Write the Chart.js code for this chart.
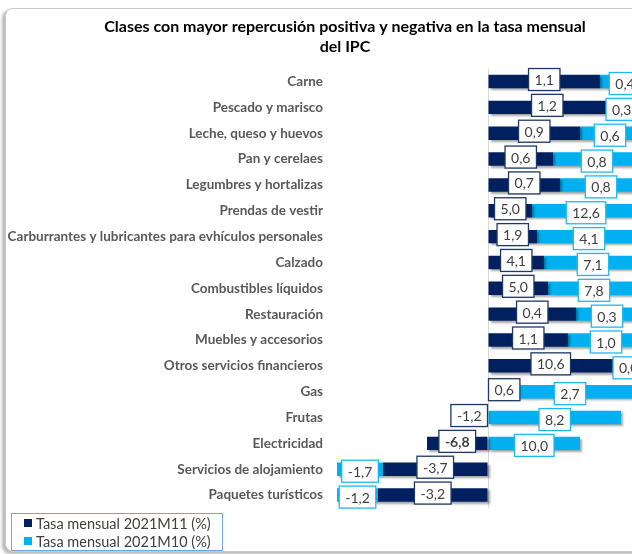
<!DOCTYPE html>
<html>
<head>
<meta charset="utf-8">
<script src="https://cdn.jsdelivr.net/npm/chart.js@4/dist/chart.umd.min.js"></script>
<style>
  html, body { margin: 0; padding: 0; background: #fff; overflow: hidden; }
  #vista { position: relative; width: 632px; height: 554px; overflow: hidden; }
  #marco { position: absolute; left: 5px; top: 8px; width: 720px; height: 542px;
           border: 1px solid #c9c9c9; border-radius: 8px; box-shadow: -3px 2px 3px rgba(0,0,0,0.28); background: #fff; }
  #lienzo { position: absolute; left: 0; top: 0; width: 692px; height: 554px; }
</style>
</head>
<body>
<div id="vista">
  <div id="marco"></div>
  <div id="lienzo"><canvas id="chartIPC"></canvas></div>
</div>
<script>
const clases = [
    'Carne', 'Pescado y marisco', 'Leche, queso y huevos', 'Pan y cerelaes',
    'Legumbres y hortalizas', 'Prendas de vestir',
    'Carburrantes y lubricantes para evhículos personales', 'Calzado',
    'Combustibles líquidos', 'Restauración', 'Muebles y accesorios',
    'Otros servicios financieros', 'Gas', 'Frutas', 'Electricidad',
    'Servicios de alojamiento', 'Paquetes turísticos'
];

// longitud de cada barra (repercusión)
const repM11 = [1.12, 1.18, 0.92, 0.65, 0.72, 0.44, 0.49, 0.56, 0.60, 0.88, 0.80, 1.25, 0.02, -0.01, -0.61, -1.05, -1.10];
const repM10 = [0.50, 0.30, 0.60, 0.88, 0.82, 1.08, 1.04, 0.98, 0.92, 0.62, 0.76, 0.02, 1.60, 1.33, 0.92, -0.46, -0.41];

// tasas mensuales mostradas en las etiquetas
const tasaM11 = ['1,1', '1,2', '0,9', '0,6', '0,7', '5,0', '1,9', '4,1', '5,0', '0,4', '1,1', '10,6', '0,6', '-1,2', '-6,8', '-3,7', '-3,2'];
const tasaM10 = ['0,4', '0,3', '0,6', '0,8', '0,8', '12,6', '4,1', '7,1', '7,8', '0,3', '1,0', '0,0', '2,7', '8,2', '10,0', '-1,7', '-1,2'];

const series = ['Tasa mensual 2021M11 (%)', 'Tasa mensual 2021M10 (%)'];
const negritaM11 = ['Electricidad'];

const colorOscuro = '#002060';
const colorClaro = '#00B0F0';
const fuente = 'Lato, "Open Sans", sans-serif';

const etiquetasPlugin = {
    id: 'etiquetas',
    beforeDatasetsDraw(chart) {
        const c = chart.ctx;
        c.save();
        c.shadowColor = 'rgba(0,0,0,0.35)';
        c.shadowOffsetX = 2;
        c.shadowOffsetY = 2;
        c.shadowBlur = 2;
    },
    afterDatasetsDraw(chart) {
        const c = chart.ctx;
        c.restore();
        const textos = [tasaM11, tasaM10];
        const bordes = ['#203864', '#1EB8F2'];
        const dy = [-2, 2];
        c.save();
        c.textAlign = 'center';
        c.textBaseline = 'middle';
        chart.data.datasets.forEach((ds, i) => {
            const meta = chart.getDatasetMeta(i);
            meta.data.forEach((bar, j) => {
                const p = bar.getProps(['x', 'base', 'y'], true);
                const negrita = i === 0 && negritaM11.includes(clases[j]);
                c.font = (negrita ? 'bold ' : '') + '14px ' + fuente;
                const txt = textos[i][j];
                const w = c.measureText(txt).width + 12;
                const h = 22;
                let cx = (p.x + p.base) / 2;
                if (Math.abs(p.x - p.base) < w) {
                    cx = p.x >= p.base ? p.base + w / 2 : p.base - w / 2;
                }
                const cy = p.y + dy[i];
                c.fillStyle = '#ffffff';
                c.fillRect(cx - w / 2, cy - h / 2, w, h);
                c.lineWidth = 1.3;
                c.strokeStyle = bordes[i];
                c.strokeRect(cx - w / 2, cy - h / 2, w, h);
                c.fillStyle = '#404040';
                c.fillText(txt, cx, cy + 1);
            });
        });
        c.restore();
    },
    afterDraw(chart) {
        // leyenda en recuadro, abajo a la izquierda
        const c = chart.ctx;
        c.save();
        c.strokeStyle = '#6FA8DC';
        c.lineWidth = 1;
        c.strokeRect(11.5, 513.5, 211, 37);
        c.font = '14.5px ' + fuente;
        c.textBaseline = 'middle';
        c.textAlign = 'left';
        chart.data.datasets.forEach((ds, i) => {
            const y = 523 + i * 18;
            c.fillStyle = ds.backgroundColor;
            c.fillRect(24, y - 4, 8, 8);
            c.fillStyle = '#404040';
            c.fillText(ds.label, 36, y + 1);
        });
        c.restore();
    }
};

const ctx = document.getElementById('chartIPC');
new Chart(ctx.getContext('2d'), {
    type: 'bar',
    data: {
        labels: clases,
        datasets: [
            { label: series[0], data: repM11, backgroundColor: colorOscuro },
            { label: series[1], data: repM10, backgroundColor: colorClaro }
        ]
    },
    options: {
        indexAxis: 'y',
        responsive: true,
        maintainAspectRatio: false,
        animation: false,
        datasets: {
            bar: { barPercentage: 0.52, categoryPercentage: 1, borderWidth: 0 }
        },
        layout: { padding: { top: 8, right: 2, bottom: 46, left: 0 } },
        scales: {
            x: {
                stacked: true,
                min: -1.58,
                max: 2.02,
                ticks: { display: false, stepSize: 0.5 },
                border: { display: false },
                grid: {
                    drawTicks: false,
                    color: (c) => (c.tick && c.tick.value === 0 ? '#d9d9d9' : 'rgba(0,0,0,0)')
                }
            },
            y: {
                stacked: true,
                afterFit: (s) => { s.width = 330; },
                border: { display: false },
                grid: { display: false, drawTicks: false },
                ticks: {
                    padding: 7,
                    color: '#595959',
                    font: { family: fuente, size: 13.5, weight: 'bold' }
                }
            }
        },
        plugins: {
            legend: { display: false },
            tooltip: { enabled: false },
            title: {
                display: true,
                text: ['Clases con mayor repercusión positiva y negativa en la tasa mensual', 'del IPC'],
                color: '#000000',
                font: { family: fuente, size: 16, weight: 'bold', lineHeight: 1.3 },
                padding: { top: 8, bottom: 11 }
            }
        }
    },
    plugins: [etiquetasPlugin]
});
</script>
</body>
</html>
